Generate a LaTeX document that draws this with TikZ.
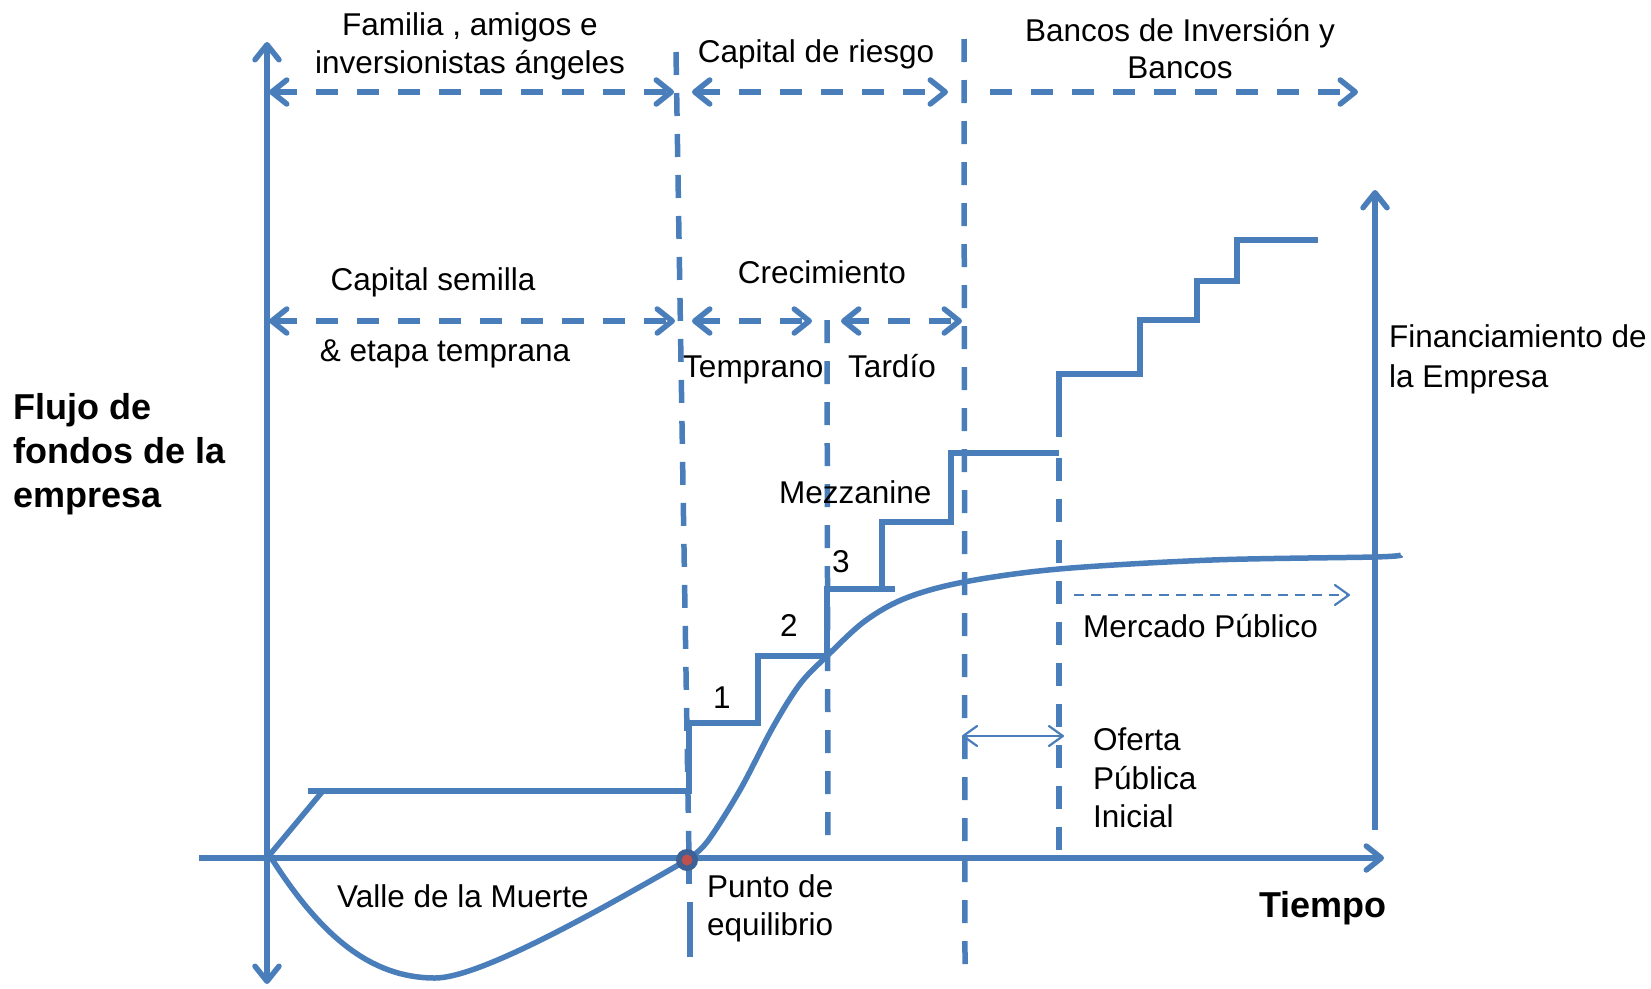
\documentclass[tikz,border=0pt]{standalone}
\usepackage{fontspec}
\setmainfont{Liberation Sans}
\usetikzlibrary{arrows.meta}
\definecolor{ln}{HTML}{4A7EBB}
\definecolor{dotb}{HTML}{3D6194}
\definecolor{dotr}{HTML}{C0504D}
\begin{document}
\begin{tikzpicture}[x=1pt,y=-1pt,
  lbl/.style={inner sep=0pt,font=\fontsize{31.5}{38}\selectfont},
  blbl/.style={inner sep=0pt,font=\fontsize{36}{44}\selectfont\bfseries},
  axisline/.style={draw=ln,line width=5.5pt},
  stepline/.style={draw=ln,line width=5.5pt,line join=miter},
  dashline/.style={draw=ln,line width=5.5pt,dash pattern=on 23pt off 18pt},
  rowline/.style={draw=ln,line width=5.5pt,dash pattern=on 22pt off 19pt},
  thinline/.style={draw=ln,line width=2.2pt},
  bigtip/.tip={Straight Barb[length=15pt,width=24pt,round]},
  smalltip/.tip={Straight Barb[length=14pt,width=20pt,round]}
]
\useasboundingbox (0,0) rectangle (1651,988);
% key coordinates
\coordinate (O) at (267,858);
\coordinate (ytop) at (267,42);
\coordinate (ybot) at (267,984);
\coordinate (xl) at (199,858);
\coordinate (xr) at (1384,858);
\coordinate (ftop) at (1375,190);
\coordinate (fbot) at (1375,830);
% vertical dashed lines
\coordinate (v1t) at (676,52);
\coordinate (v1m) at (689,858);
\coordinate (v1a) at (689,869);
\coordinate (v1c) at (689,884);
\coordinate (v1d) at (690,902);
\coordinate (v1b) at (690,957);
\coordinate (v2t) at (827,320);
\coordinate (v2b) at (828,848);
\coordinate (v3t) at (964,39);
\coordinate (v3b) at (965,965);
\coordinate (v4t) at (1059,458);
\coordinate (v4b) at (1059,852);
\draw[dashline] (v1t) -- (v1m);
\draw[axisline] (v1a) -- (v1c);
\draw[axisline] (v1d) -- (v1b);
\draw[dashline] (v2t) -- (v2b);
\draw[dashline] (v3t) -- (v3b);
\draw[dashline] (v4t) -- (v4b);
% axes
\draw[axisline,{bigtip}-{bigtip}] (ybot) -- (ytop);
\draw[axisline,-{bigtip}] (xl) -- (xr);
\draw[axisline,-{bigtip}] (fbot) -- (ftop);
% top row arrows
\coordinate (r1a) at (269,92);
\coordinate (r1b) at (674,92);
\coordinate (r1c) at (692,92);
\coordinate (r1d) at (948,92);
\coordinate (r1e) at (990,92);
\coordinate (r1f) at (1358,92);
\draw[rowline,{bigtip}-{bigtip}] (r1a) -- (r1b);
\draw[rowline,{bigtip}-{bigtip}] (r1c) -- (r1d);
\draw[rowline,-{bigtip}] (r1e) -- (r1f);
% second row arrows
\coordinate (r2a) at (269,321);
\coordinate (r2b) at (675,321);
\coordinate (r2c) at (692,321);
\coordinate (r2d) at (812,321);
\coordinate (r2e) at (841,321);
\coordinate (r2f) at (962,321);
\draw[rowline,{bigtip}-{bigtip}] (r2a) -- (r2b);
\draw[rowline,{bigtip}-{bigtip}] (r2c) -- (r2d);
\draw[rowline,{bigtip}-{bigtip}] (r2e) -- (r2f);
% thin arrows
\coordinate (m1) at (1074,595);
\coordinate (m2) at (1350,595);
\draw[thinline,dash pattern=on 10pt off 7pt,-{smalltip}] (m1) -- (m2);
\coordinate (ip1) at (962,736);
\coordinate (ip2) at (1064,736);
\draw[thinline,{smalltip}-{smalltip}] (ip1) -- (ip2);
% staircase
\coordinate (s0) at (322,792);
\draw[stepline] (O) -- (s0);
\draw[stepline] (308,791) -- (689,791) -- (689,723) -- (758,723) -- (758,656) -- (827,656) -- (827,589) -- (895,589);
\draw[stepline] (882,589) -- (882,522) -- (951,522) -- (951,453) -- (1059,453);
\draw[stepline] (1059,437) -- (1059,374) -- (1140,374) -- (1140,320) -- (1197,320) -- (1197,281) -- (1237,281) -- (1237,240) -- (1318,240);
% curve
\coordinate (be) at (687,860);
\coordinate (vs) at (270,856);
\coordinate (vmin) at (435,978);
\draw[ln,line width=5.5pt] (vs) .. controls (320,935) and (370,978) .. (vmin)
  .. controls (480,978) and (600,910) .. (be);
\draw[ln,line width=5.5pt] plot[smooth,tension=0.55] coordinates {(687,860) (707,842) (740,790) (773,727) (800,684) (827,656) (865,621) (906,598) (964,582) (1059,569) (1212,560) (1374,557) (1401,555)};
\fill[dotb] (be) circle (11pt);
\fill[dotr] (be) circle (5.5pt);
% labels
\node[lbl,anchor=base] (fam1) at (470,35) {Familia , amigos e};
\node[lbl,anchor=base] (fam2) at (470,73) {inversionistas ángeles};
\node[lbl,anchor=base] (cr) at (816,62) {Capital de riesgo};
\node[lbl,anchor=base] (bi1) at (1180,41) {Bancos de Inversión y};
\node[lbl,anchor=base] (bi2) at (1180,78) {Bancos};
\node[lbl,anchor=base] (cs) at (433,290) {Capital semilla};
\node[lbl,anchor=base] (et) at (445,361) {\& etapa temprana};
\node[lbl,anchor=base] (cre) at (822,283) {Crecimiento};
\node[lbl,anchor=base west] (tem) at (683,377) {Temprano};
\node[lbl,anchor=base west] (tar) at (848,377) {Tardío};
\node[lbl,anchor=base west] (mez) at (779,503) {Mezzanine};
\node[lbl,anchor=base west] (n3) at (832,572) {3};
\node[lbl,anchor=base west] (n2) at (780,636) {2};
\node[lbl,anchor=base west] (n1) at (713,708) {1};
\node[lbl,anchor=base west] (mp) at (1083,637) {Mercado Público};
\node[lbl,anchor=base west] (of1) at (1093,750) {Oferta};
\node[lbl,anchor=base west] (of2) at (1093,789) {Pública};
\node[lbl,anchor=base west] (of3) at (1093,827) {Inicial};
\node[lbl,anchor=base west] (fi1) at (1389,347) {Financiamiento de};
\node[lbl,anchor=base west] (fi2) at (1389,387) {la Empresa};
\node[lbl,anchor=base west] (vm) at (337,907) {Valle de la Muerte};
\node[lbl,anchor=base west] (pe1) at (707,897) {Punto de};
\node[lbl,anchor=base west] (pe2) at (707,935) {equilibrio};
\node[blbl,anchor=base east] (ti) at (1387,917) {Tiempo};
\node[blbl,anchor=base west] (fl1) at (13,419) {Flujo de};
\node[blbl,anchor=base west] (fl2) at (13,463) {fondos de la};
\node[blbl,anchor=base west] (fl3) at (13,507) {empresa};
\end{tikzpicture}
\end{document}
